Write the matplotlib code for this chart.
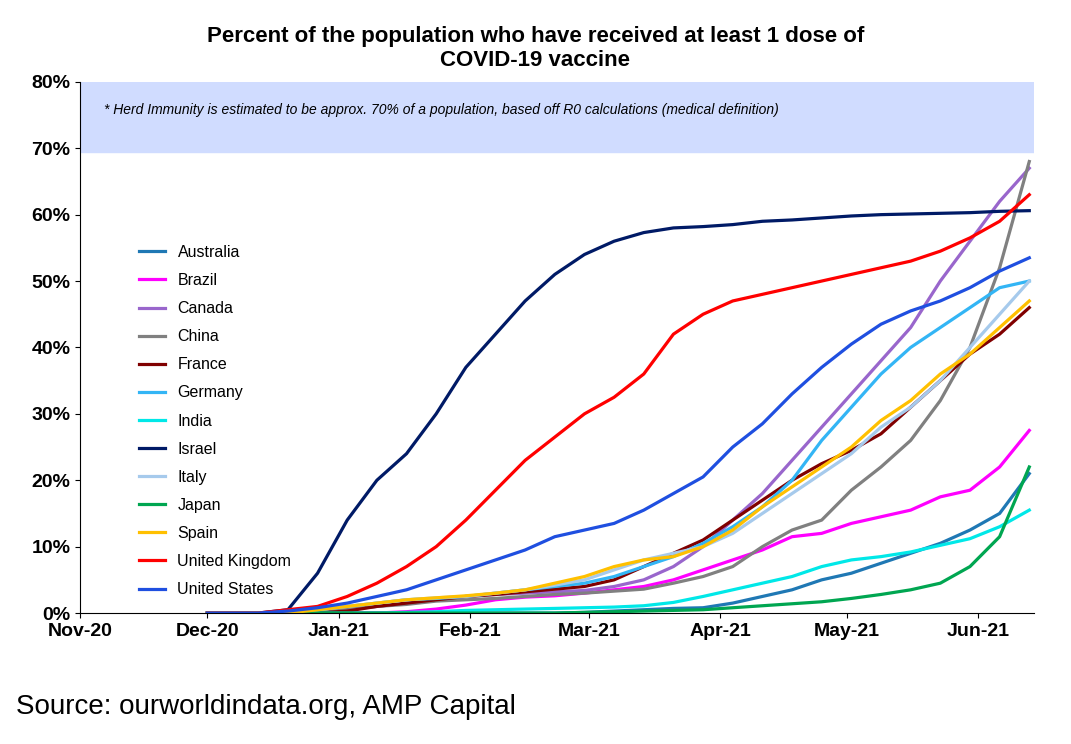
import numpy as np
import pandas as pd
import matplotlib.pyplot as plt
import matplotlib.dates as mdates

plt.rcParams['font.family'] = ['Liberation Sans', 'DejaVu Sans']

# weekly dates (plus Dec 1 start)
dates = pd.to_datetime(["2020-12-01"] + list(pd.date_range("2020-12-13", "2021-06-13", freq="7D").strftime("%Y-%m-%d")))

Australia = [0]*12 + [0.1, 0.3, 0.5, 0.7, 0.8, 1.5, 2.5, 3.5, 5, 6, 7.5, 9, 10.5, 12.5, 15, 21]
Brazil = [0]*6 + [0.2, 0.6, 1.2, 2, 2.4, 2.6, 3, 3.5, 4, 5, 6.5, 8, 9.5, 11.5, 12, 13.5, 14.5, 15.5, 17.5, 18.5, 22, 27.5]
Canada = [0, 0, 0, 0.3, 0.5, 1, 1.5, 2, 2.5, 2.8, 3, 3.2, 3.4, 4, 5, 7, 10, 14, 18, 23, 28, 33, 38, 43, 50, 56, 62, 67]
China = [0, 0, 0, 0.3, 0.7, 1, 1.3, 1.8, 2, 2.2, 2.5, 2.8, 3, 3.3, 3.6, 4.5, 5.5, 7, 10, 12.5, 14, 18.5, 22, 26, 32, 40, 52, 68]
France = [0, 0, 0, 0, 0.3, 1, 1.5, 2, 2.5, 2.8, 3.2, 3.6, 4, 5, 7, 9, 11, 14, 17, 20, 22.5, 24.5, 27, 31, 35, 39, 42, 46]
Germany = [0, 0, 0, 0.5, 1, 1.5, 2, 2.2, 2.5, 3, 3.5, 4, 4.5, 5.5, 7, 8.5, 10.5, 13, 16, 20, 26, 31, 36, 40, 43, 46, 49, 50]
India = [0]*6 + [0.1, 0.2, 0.4, 0.5, 0.6, 0.7, 0.8, 0.9, 1.1, 1.6, 2.5, 3.5, 4.5, 5.5, 7, 8, 8.5, 9.2, 10.2, 11.2, 13, 15.5]
Israel = [0, 0, 0.5, 6, 14, 20, 24, 30, 37, 42, 47, 51, 54, 56, 57.3, 58, 58.2, 58.5, 59, 59.2, 59.5, 59.8, 60, 60.1, 60.2, 60.3, 60.5, 60.6]
Italy = [0, 0, 0, 0.5, 1, 1.5, 2, 2.3, 2.5, 3, 3.5, 4.2, 5, 6.5, 8, 9, 10, 12, 15, 18, 21, 24, 28, 31, 35, 40, 45, 50]
Japan = [0]*12 + [0.1, 0.2, 0.3, 0.4, 0.5, 0.8, 1.1, 1.4, 1.7, 2.2, 2.8, 3.5, 4.5, 7, 11.5, 22]
Spain = [0, 0, 0, 0.5, 1, 1.5, 2, 2.3, 2.6, 3, 3.5, 4.5, 5.5, 7, 8, 8.5, 10, 12.5, 16, 19, 22, 25, 29, 32, 36, 39, 43, 47]
UK = [0, 0, 0.5, 1, 2.5, 4.5, 7, 10, 14, 18.5, 23, 26.5, 30, 32.5, 36, 42, 45, 47, 48, 49, 50, 51, 52, 53, 54.5, 56.5, 59, 63]
US = [0, 0, 0.3, 0.8, 1.5, 2.5, 3.5, 5, 6.5, 8, 9.5, 11.5, 12.5, 13.5, 15.5, 18, 20.5, 25, 28.5, 33, 37, 40.5, 43.5, 45.5, 47, 49, 51.5, 53.5]

series = [("Australia", Australia, "#1F78B4"), ("Brazil", Brazil, "#FF00FF"),
          ("Canada", Canada, "#9966CC"), ("China", China, "#808080"),
          ("France", France, "#800000"), ("Germany", Germany, "#33B5F5"),
          ("India", India, "#00E8E8"), ("Israel", Israel, "#001A66"),
          ("Italy", Italy, "#A6CAEC"), ("Japan", Japan, "#00A651"),
          ("Spain", Spain, "#FFC000"), ("United Kingdom", UK, "#FF0000"),
          ("United States", US, "#1F4FE0")]

fig = plt.figure(figsize=(10.71, 7.44), dpi=100)
ax = fig.add_axes([0.075, 0.176, 0.89, 0.714])

# zone immunite collective
ax.axhspan(0.695, 0.8, color="#D0DCFF", zorder=0)
ax.text(0.025, 0.96, "* Herd Immunity is estimated to be approx. 70% of a population, based off R0 calculations (medical definition)",
        transform=ax.transAxes, fontsize=10, style="italic", va="top")

for name, vals, col in series:
    ax.plot(dates, np.array(vals) / 100, color=col, lw=2.3, label=name)

ax.set_xlim(pd.Timestamp("2020-11-01"), pd.Timestamp("2021-06-14"))
ax.set_ylim(0, 0.8)
ax.set_yticks(np.arange(0, 0.81, 0.1))
ax.set_yticklabels([f"{int(round(v*100))}%" for v in np.arange(0, 0.81, 0.1)], fontsize=14, fontweight="bold")
ax.xaxis.set_major_locator(mdates.MonthLocator())
ax.xaxis.set_major_formatter(mdates.DateFormatter("%b-%y"))
for t in ax.get_xticklabels():
    t.set_fontsize(14)
    t.set_fontweight("bold")
for s in ["top", "right"]:
    ax.spines[s].set_visible(False)

ax.legend(loc="upper left", bbox_to_anchor=(0.055, 0.705), frameon=False, fontsize=11.5,
          handlelength=1.6, labelspacing=0.82, borderaxespad=0)

fig.suptitle("Percent of the population who have received at least 1 dose of\nCOVID-19 vaccine",
             y=0.965, fontsize=16, fontweight="bold")
fig.text(0.015, 0.04, "Source: ourworldindata.org, AMP Capital", fontsize=20)

fig.savefig("out.png", dpi=100)
